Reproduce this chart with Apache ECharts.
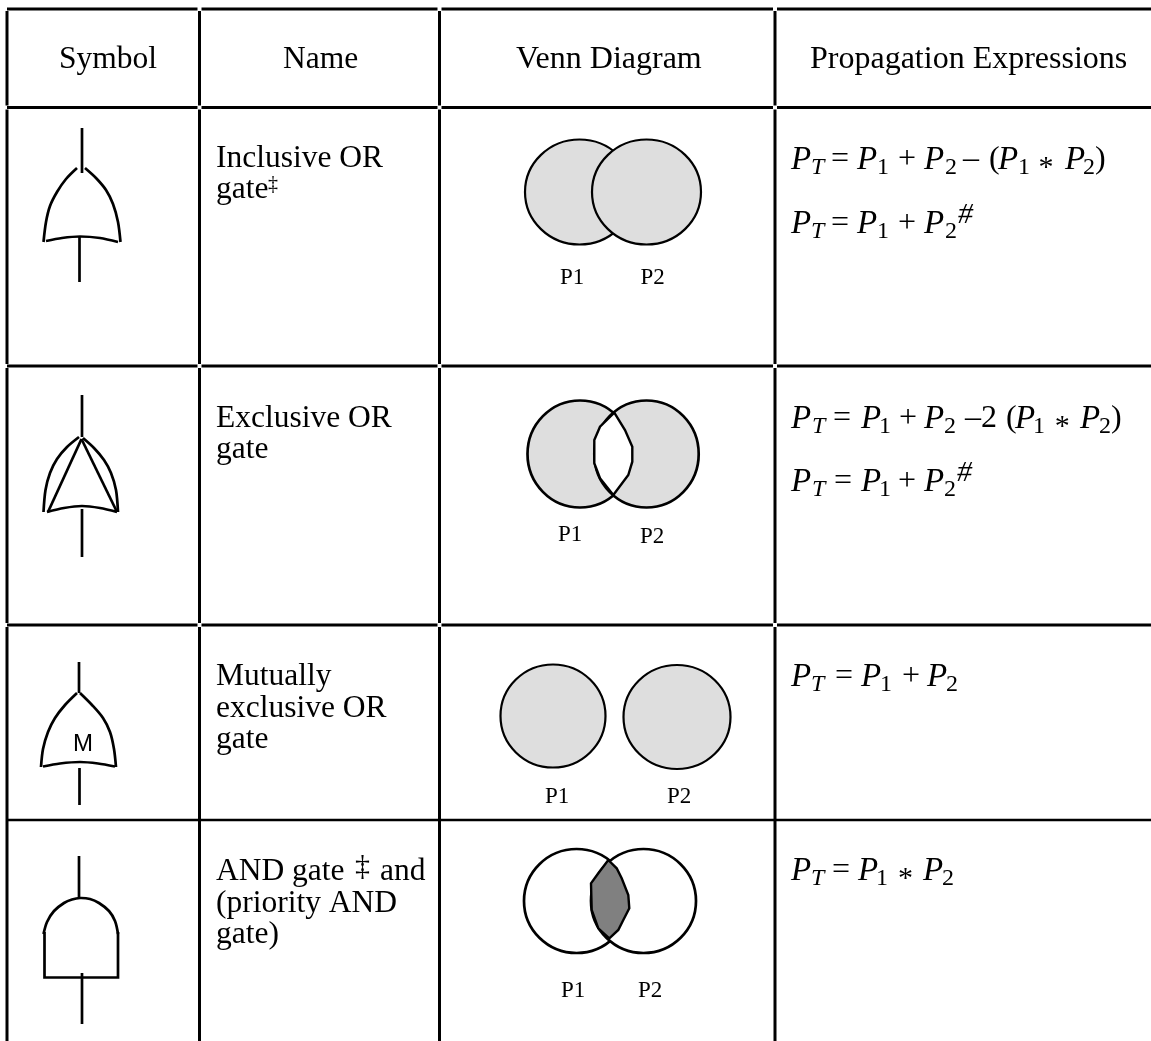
<!DOCTYPE html>
<html>
<head>
<meta charset="utf-8">
<title>Gate table</title>
<script src="https://cdn.jsdelivr.net/npm/echarts@6/dist/echarts.min.js"></script>
<style>
  html, body { margin: 0; background: #fff; }
  #chart { width: 1151px; height: 1041px; }
</style>
</head>
<body>
<div id="chart"></div>
<script>
// table rules, in picture pixels
const columnX = [7, 199.5, 439.5, 775];
const rowY = [9, 107.5, 366, 625, 820];

// text: [string, x, baseline]
const headerText = [["Symbol", 59, 68], ["Name", 283, 68]];
const headerWide = [["Venn Diagram", 516, 68], ["Propagation Expressions", 810, 68]];
const nameText = [
  ["Inclusive OR", 216, 167], ["gate", 216, 198],
  ["Exclusive OR", 216, 427], ["gate", 216, 458],
  ["Mutually", 216, 685], ["exclusive OR", 216, 717], ["gate", 216, 748],
  ["AND gate", 216, 880], ["and", 380, 880], ["(priority AND", 216, 912], ["gate)", 216, 943]
];
const daggerSmall = [["‡", 268, 191]];
const daggerLarge = [["‡", 355, 877]];
const vennLabels = [
  ["P1", 560, 284], ["P2", 640.5, 284],
  ["P1", 558, 541], ["P2", 640, 543],
  ["P1", 545, 803], ["P2", 667, 803],
  ["P1", 561, 997], ["P2", 638, 997]
];
const gateLetter = [["M", 73, 752]];

// formula pieces
const formulaItalic = [
  ["P", 791, 168], ["P", 857, 168], ["P", 924, 168], ["P", 998, 168], ["P", 1065, 168],
  ["P", 791, 232], ["P", 857, 232], ["P", 924, 232],
  ["P", 791, 427], ["P", 861, 427], ["P", 924, 427], ["P", 1015, 427], ["P", 1080, 427],
  ["P", 791, 490], ["P", 861, 490], ["P", 924, 490],
  ["P", 791, 685], ["P", 861, 685], ["P", 927, 685],
  ["P", 791, 879], ["P", 858, 879], ["P", 923, 879]
];
const formulaSubT = [["T", 811, 174], ["T", 811, 238], ["T", 812, 433], ["T", 812, 496], ["T", 811, 691], ["T", 811, 885]];
const formulaSubNum = [
  ["1", 877, 174], ["2", 945, 174], ["1", 1018, 174], ["2", 1083, 174],
  ["1", 877, 238], ["2", 945, 238],
  ["1", 879, 433], ["2", 944, 433], ["1", 1033, 433], ["2", 1099, 433],
  ["1", 879, 496], ["2", 944, 496],
  ["1", 880, 691], ["2", 946, 691],
  ["1", 876, 885], ["2", 942, 885]
];
const formulaPlain = [
  ["=", 831, 168], ["+", 898, 168], ["–", 963, 168], ["(", 989, 168], [")", 1095, 168],
  ["=", 831, 232], ["+", 898, 232],
  ["=", 833, 427], ["+", 899, 427], ["–", 965, 427], ["2", 981, 427], ["(", 1006, 427], [")", 1111, 427],
  ["=", 834, 490], ["+", 898, 490],
  ["=", 835, 685], ["+", 902, 685],
  ["=", 832, 879]
];
// the plain asterisk sits high in the font, so it gets a lower baseline
const formulaStar = [["*", 1038.5, 176], ["*", 1054.7, 435], ["*", 898, 887]];
const formulaHash = [["#", 958, 225], ["#", 957, 483]];

// venn circles: [cx, cy, rx, ry]
const vennGreyThin = [
  [579.5, 192, 54.5, 52.5], [646.5, 192, 54.5, 52.5],
  [553, 716, 52.5, 51.5], [677, 717, 53.5, 52]
];
const vennGreyThick = [[580, 454, 52.5, 53.5], [646.5, 454, 52.2, 53.5]];
const vennWhite = [[576.6, 901, 52.6, 52], [643.5, 901, 52.5, 52]];

// hand traced overlaps of the circles
const lensWhite = [[614.3, 412.7], [600, 426.7], [594.3, 440], [594.3, 463.3], [600, 478.3], [613.3, 495],
  [628.3, 475], [632.3, 461.7], [632.3, 446.7], [625, 430]];
const lensDark = [[608.3, 860], [616.7, 868.3], [621.7, 878.3], [628.3, 895], [629.3, 908.3], [623.3, 920],
  [618.3, 930], [609.3, 938.3], [598.3, 928.3], [591.7, 910], [591, 883.3], [598.3, 873.3]];

// gate outlines
const straightStrokes = [
  [[82, 128], [82, 173]], [[79.5, 237], [79.5, 282]],
  [[82, 395], [82, 437]], [[82, 509], [82, 557]],
  [[81.5, 439], [48, 512]], [[81.5, 439], [117, 512]],
  [[79, 662], [79, 693]], [[79.5, 768], [79.5, 805]],
  [[79, 856], [79, 898]], [[82, 973], [82, 1024]],
  [[44.5, 932], [44.5, 977.5], [118, 977.5], [118, 932]]
];
const curvedStrokes = [
  [[77, 168], [66, 179], [57, 192], [50, 206], [46, 222], [43.5, 242]],
  [[85, 168], [96, 178], [106, 190], [113, 204], [118, 222], [120.5, 242]],
  [[46, 241], [62, 238], [80, 236.5], [100, 238], [118, 242]],
  [[79, 437], [67, 447], [57, 459], [50, 473], [45.5, 490], [43.5, 512]],
  [[83, 438], [94, 448], [104, 460], [111, 473], [116, 490], [118, 512]],
  [[47, 512], [64, 508], [82, 506], [100, 508], [117, 512]],
  [[77, 693], [65, 705], [55, 718], [48, 732], [43, 749], [41, 767]],
  [[80, 693], [92, 705], [103, 718], [110, 732], [114, 749], [116, 767]],
  [[43, 766.5], [60, 763.5], [80, 762], [98, 763.5], [115, 766.5]],
  [[43.5, 934], [47, 922], [54, 911], [64, 903], [72, 899.5], [80, 898], [90, 899], [99, 903], [109, 911], [115, 921], [118, 934]]
];

// rule segments stop short of the crossings, the scan leaves small white gaps there
function ruleSegments() {
  const segs = [];
  const gap = 2;
  const xs = columnX.concat([1155]);
  const ys = rowY.slice(0, 4).concat([1045]);
  rowY.slice(0, 4).forEach(y => {
    for (let i = 0; i < xs.length - 1; i++) {
      segs.push([xs[i] + (i ? gap : 0), y, xs[i + 1] - gap, y]);
    }
  });
  columnX.forEach(x => {
    for (let i = 0; i < ys.length - 1; i++) {
      segs.push([x, ys[i] + gap, x, ys[i + 1] - gap]);
    }
  });
  return segs;
}

function textSeries(list, font, lift) {
  return {
    type: "custom",
    coordinateSystem: "cartesian2d",
    silent: true,
    clip: false,
    data: list.map(t => [t[1], t[2], t[0]]),
    encode: { x: 0, y: 1 },
    renderItem: (params, api) => {
      const p = api.coord([api.value(0), api.value(1)]);
      return {
        type: "text",
        x: p[0],
        y: p[1] - lift,
        style: {
          text: list[params.dataIndex][0],
          font: font,
          fill: "#000",
          align: "left",
          verticalAlign: "middle"
        }
      };
    }
  };
}

function ellipseSeries(list, fill, width) {
  return {
    type: "custom",
    silent: true,
    z: 2,
    data: list,
    encode: { x: 0, y: 1 },
    renderItem: (params, api) => {
      const c = api.coord([api.value(0), api.value(1)]);
      const s = api.size([api.value(2), api.value(3)]);
      return {
        type: "ellipse",
        shape: { cx: c[0], cy: c[1], rx: s[0], ry: s[1] },
        style: { fill: fill, stroke: "#000", lineWidth: width }
      };
    }
  };
}

function pathSeries(list, smooth, width) {
  return {
    type: "custom",
    silent: true,
    clip: false,
    data: list.map(pts => pts[0]),
    encode: { x: 0, y: 1 },
    renderItem: (params, api) => ({
      type: "polyline",
      shape: { points: list[params.dataIndex].map(p => api.coord(p)), smooth: smooth },
      style: { fill: null, stroke: "#000", lineWidth: width }
    })
  };
}

function lensSeries(pts, fill) {
  return {
    type: "custom",
    silent: true,
    z: 3,
    data: [pts[0]],
    encode: { x: 0, y: 1 },
    renderItem: (params, api) => ({
      type: "polygon",
      shape: { points: pts.map(p => api.coord(p)) },
      style: { fill: fill, stroke: "#000", lineWidth: 2.4 }
    })
  };
}

const serif = '"Liberation Serif"';
const chart = echarts.init(document.getElementById("chart"));
chart.setOption({
  animation: false,
  backgroundColor: "#fff",
  tooltip: { show: false },
  grid: { left: 0, right: 0, top: 0, bottom: 0 },
  xAxis: { type: "value", min: 0, max: 1151, show: false },
  yAxis: { type: "value", min: 0, max: 1041, inverse: true, show: false },
  series: [
    // table
    {
      type: "custom",
      silent: true,
      clip: false,
      data: ruleSegments(),
      encode: { x: [0, 2], y: [1, 3] },
      renderItem: (params, api) => {
        const a = api.coord([api.value(0), api.value(1)]);
        const b = api.coord([api.value(2), api.value(3)]);
        return {
          type: "line",
          shape: { x1: a[0], y1: a[1], x2: b[0], y2: b[1] },
          style: { stroke: "#000", lineWidth: 3 }
        };
      }
    },
    {
      type: "custom",
      silent: true,
      clip: false,
      data: [[columnX[0], rowY[4], 1151, rowY[4]]],
      encode: { x: [0, 2], y: [1, 3] },
      renderItem: (params, api) => {
        const a = api.coord([api.value(0), api.value(1)]);
        const b = api.coord([api.value(2), api.value(3)]);
        return {
          type: "line",
          shape: { x1: a[0], y1: a[1], x2: b[0], y2: b[1] },
          style: { stroke: "#000", lineWidth: 2.5 }
        };
      }
    },
    // venn diagrams
    ellipseSeries(vennGreyThin, "#dedede", 2.2),
    ellipseSeries(vennGreyThick, "#dedede", 2.7),
    ellipseSeries(vennWhite, "#fff", 2.7),
    lensSeries(lensWhite, "#fff"),
    lensSeries(lensDark, "#808080"),
    // gates
    pathSeries(straightStrokes, 0, 2.7),
    pathSeries(curvedStrokes, 0.3, 2.7),
    // text
    textSeries(headerText, "31.5px " + serif, 8),
    textSeries(headerWide, "32px " + serif, 8),
    textSeries(nameText, "31.5px " + serif, 8),
    textSeries(daggerSmall, "20px " + serif, 6),
    textSeries(daggerLarge, "30px " + serif, 10),
    textSeries(vennLabels, "23px " + serif, 6),
    textSeries(gateLetter, '24px "Liberation Sans"', 8),
    textSeries(formulaItalic, "italic 33px " + serif, 8),
    textSeries(formulaSubT, "italic 24px " + serif, 6),
    textSeries(formulaSubNum, "24px " + serif, 6),
    textSeries(formulaPlain, "32px " + serif, 8),
    textSeries(formulaStar, "30px " + serif, 8),
    textSeries(formulaHash, "italic 30px " + serif, 10)
  ]
});
</script>
</body>
</html>
